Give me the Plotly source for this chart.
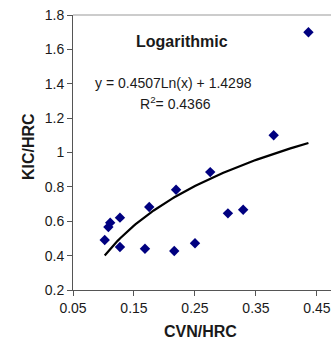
import numpy as np
import plotly.graph_objects as go

# Data
cvn_hrc = [0.436, 0.379, 0.275, 0.219, 0.175, 0.304, 0.329, 0.127, 0.111, 0.108,
           0.102, 0.127, 0.168, 0.216, 0.250]
kic_hrc = [1.70, 1.10, 0.886, 0.783, 0.683, 0.646, 0.667, 0.621, 0.592, 0.566,
           0.491, 0.450, 0.440, 0.427, 0.472]

# Logarithmic trendline coefficients shown on the chart
coef_a = 0.4507
coef_b = 1.4298
r_squared = 0.4366

x_ticks = [0.05, 0.15, 0.25, 0.35, 0.45]
x_tick_text = ["0.05", "0.15", "0.25", "0.35", "0.45"]
y_ticks = [0.2, 0.4, 0.6, 0.8, 1.0, 1.2, 1.4, 1.6, 1.8]
y_tick_text = ["0.2", "0.4", "0.6", "0.8", "1", "1.2", "1.4", "1.6", "1.8"]

trend_x = np.linspace(min(cvn_hrc), max(cvn_hrc), 80)
trend_y = coef_a * np.log(trend_x) + coef_b

FONT = "Liberation Sans, Arial, sans-serif"
TXT = "#1a1a1a"

fig = go.Figure()
fig.add_trace(go.Scatter(
    x=trend_x, y=trend_y, mode="lines",
    line=dict(color="black", width=2.2), hoverinfo="skip", showlegend=False))
fig.add_trace(go.Scatter(
    x=cvn_hrc, y=kic_hrc, mode="markers",
    marker=dict(symbol="diamond", size=8, color="#000080", line=dict(width=0)),
    showlegend=False))


# Convert pixel positions to paper coords for annotations
def px(xp, yp):
    return (xp - 73) / 258, (290 - yp) / 275


ann = []
for text, xp, yp, size, angle in [
    ("<b>Logarithmic</b>", 182, 42, 16, 0),
    (f"y = {coef_a}Ln(x) + {coef_b}", 173, 83, 14, 0),
    (f"R<sup>2</sup>= {r_squared}", 175, 103, 14, 0),
    ("<b>KIC/HRC</b>", 28, 147, 16, -90),
    ("<b>CVN/HRC</b>", 200, 331, 16, 0),
]:
    xx, yy = px(xp, yp)
    ann.append(dict(text=text, x=xx, y=yy, xref="paper", yref="paper",
                    showarrow=False, xanchor="center", yanchor="middle",
                    textangle=angle,
                    font=dict(size=size, family=FONT, color=TXT)))

fig.update_layout(
    width=331, height=340,
    margin=dict(l=73, r=0, t=15, b=50, autoexpand=False),
    paper_bgcolor="white", plot_bgcolor="white",
    font=dict(family=FONT, size=14, color=TXT),
    xaxis=dict(range=[0.05, 0.473], tickvals=x_ticks, ticktext=x_tick_text,
               showgrid=False, zeroline=False, showline=True, linecolor="#555555",
               linewidth=1, ticks="outside", ticklen=5, tickcolor="#555555",
               tickfont=dict(family=FONT, size=14, color=TXT), automargin=False),
    yaxis=dict(range=[0.2, 1.8], tickvals=y_ticks, ticktext=y_tick_text,
               showgrid=False, zeroline=False, showline=True, linecolor="#555555",
               linewidth=1, ticks="outside", ticklen=5, tickcolor="#555555",
               tickfont=dict(family=FONT, size=14, color=TXT), automargin=False),
    shapes=[dict(type="line", xref="paper", yref="paper", x0=0, x1=1, y0=1, y1=1,
                 line=dict(color="#999999", width=1))],
    annotations=ann,
)

fig.write_html("out.html")
